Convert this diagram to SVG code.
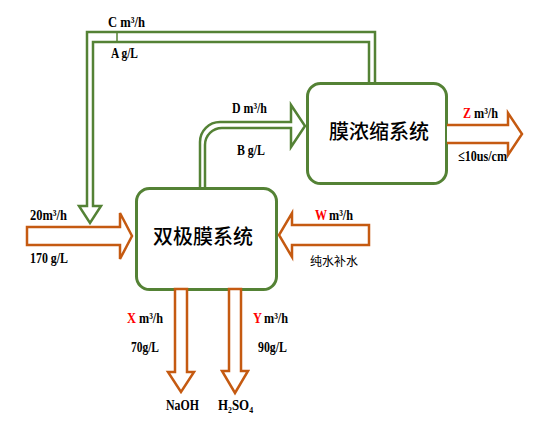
<svg xmlns="http://www.w3.org/2000/svg" width="534" height="439" viewBox="0 0 534 439">
<style>
.box{fill:#fff;stroke:#548235;stroke-width:3}
.cn{font-family:"Noto Sans CJK SC","Noto Sans",sans-serif;font-size:20px;font-weight:500;fill:#000;text-anchor:middle}
.g{fill:none;stroke:#548235;stroke-width:2.5;stroke-linejoin:miter}
.o{fill:#fff;stroke:#c55a11;stroke-width:2.5;stroke-linejoin:miter}
.t{font-family:"Liberation Serif","Times New Roman","DejaVu Serif",serif;font-size:15px;font-weight:bold;fill:#000}
.r{fill:#ff0000}
.s{font-family:"Noto Sans CJK SC",sans-serif;font-size:12px;fill:#000}
</style>
<rect width="534" height="439" fill="#fff"/>
<g id="node-membrane-concentration">
<rect class="box" x="307.5" y="83.5" width="139" height="100" rx="13"/>
<text class="cn" x="379" y="139">膜浓缩系统</text>
</g>
<g id="node-bipolar">
<rect class="box" x="136.5" y="188.5" width="140" height="101" rx="13"/>
<text class="cn" x="203" y="244">双极膜系统</text>
</g>
<g id="connectors">
<path class="g" d="M375,83 V32 H87 V206 H79 L90,223 L101,206 H93 V42 H369 V83"/>
<line x1="117" y1="32" x2="117" y2="42" stroke="#548235" stroke-width="1.5"/>
<path class="g" fill="#fff" d="M200,188 V142 A20,20 0 0 1 220,122 H291 V105 L305,126 L291,147 V128 H222 A17,17 0 0 0 205,145 V188"/>
<path class="o" d="M27,227 H120 V213 L132,236 L120,259 V245 H27 Z"/>
<path class="o" d="M447,125 H508 V113 L522,134 L508,155 V143 H447"/>
<path class="o" d="M369,225 V245 H292 V257 L279,235 L292,213 V225 Z"/>
<path class="o" d="M175,289 H187 V372 H194 L181,392 L168,372 H175 Z"/>
<path class="o" d="M229,289 H241 V371 H248 L235,393 L222,371 H229 Z"/>
</g>
<g id="labels">
<text class="t" x="108" y="27" textLength="37" lengthAdjust="spacingAndGlyphs">C m³/h</text>
<text class="t" x="111" y="58" textLength="27" lengthAdjust="spacingAndGlyphs">A g/L</text>
<text class="t" x="232" y="113" textLength="35" lengthAdjust="spacingAndGlyphs">D m³/h</text>
<text class="t" x="237" y="155" textLength="28" lengthAdjust="spacingAndGlyphs">B g/L</text>
<text class="t r" x="463" y="118" textLength="8" lengthAdjust="spacingAndGlyphs">Z</text>
<text class="t" x="474" y="118" textLength="24" lengthAdjust="spacingAndGlyphs">m³/h</text>
<text class="t" x="458" y="161" textLength="49" lengthAdjust="spacingAndGlyphs">≤10us/cm</text>
<text class="t" x="30" y="220" textLength="37" lengthAdjust="spacingAndGlyphs">20m³/h</text>
<text class="t" x="30" y="263" textLength="38" lengthAdjust="spacingAndGlyphs">170 g/L</text>
<text class="t r" x="315" y="220" textLength="12" lengthAdjust="spacingAndGlyphs">W</text>
<text class="t" x="329" y="220" textLength="24" lengthAdjust="spacingAndGlyphs">m³/h</text>
<text class="s" x="310" y="266">纯水补水</text>
<text class="t r" x="127" y="323" textLength="9" lengthAdjust="spacingAndGlyphs">X</text>
<text class="t" x="139" y="323" textLength="24" lengthAdjust="spacingAndGlyphs">m³/h</text>
<text class="t" x="131" y="352" textLength="28" lengthAdjust="spacingAndGlyphs">70g/L</text>
<text class="t r" x="253" y="323" textLength="9" lengthAdjust="spacingAndGlyphs">Y</text>
<text class="t" x="264" y="323" textLength="24" lengthAdjust="spacingAndGlyphs">m³/h</text>
<text class="t" x="258" y="352" textLength="29" lengthAdjust="spacingAndGlyphs">90g/L</text>
<text class="t" x="166" y="410" textLength="33" lengthAdjust="spacingAndGlyphs">NaOH</text>
<text class="t" x="218" y="410" textLength="35" lengthAdjust="spacingAndGlyphs">H₂SO₄</text>
</g>
</svg>
